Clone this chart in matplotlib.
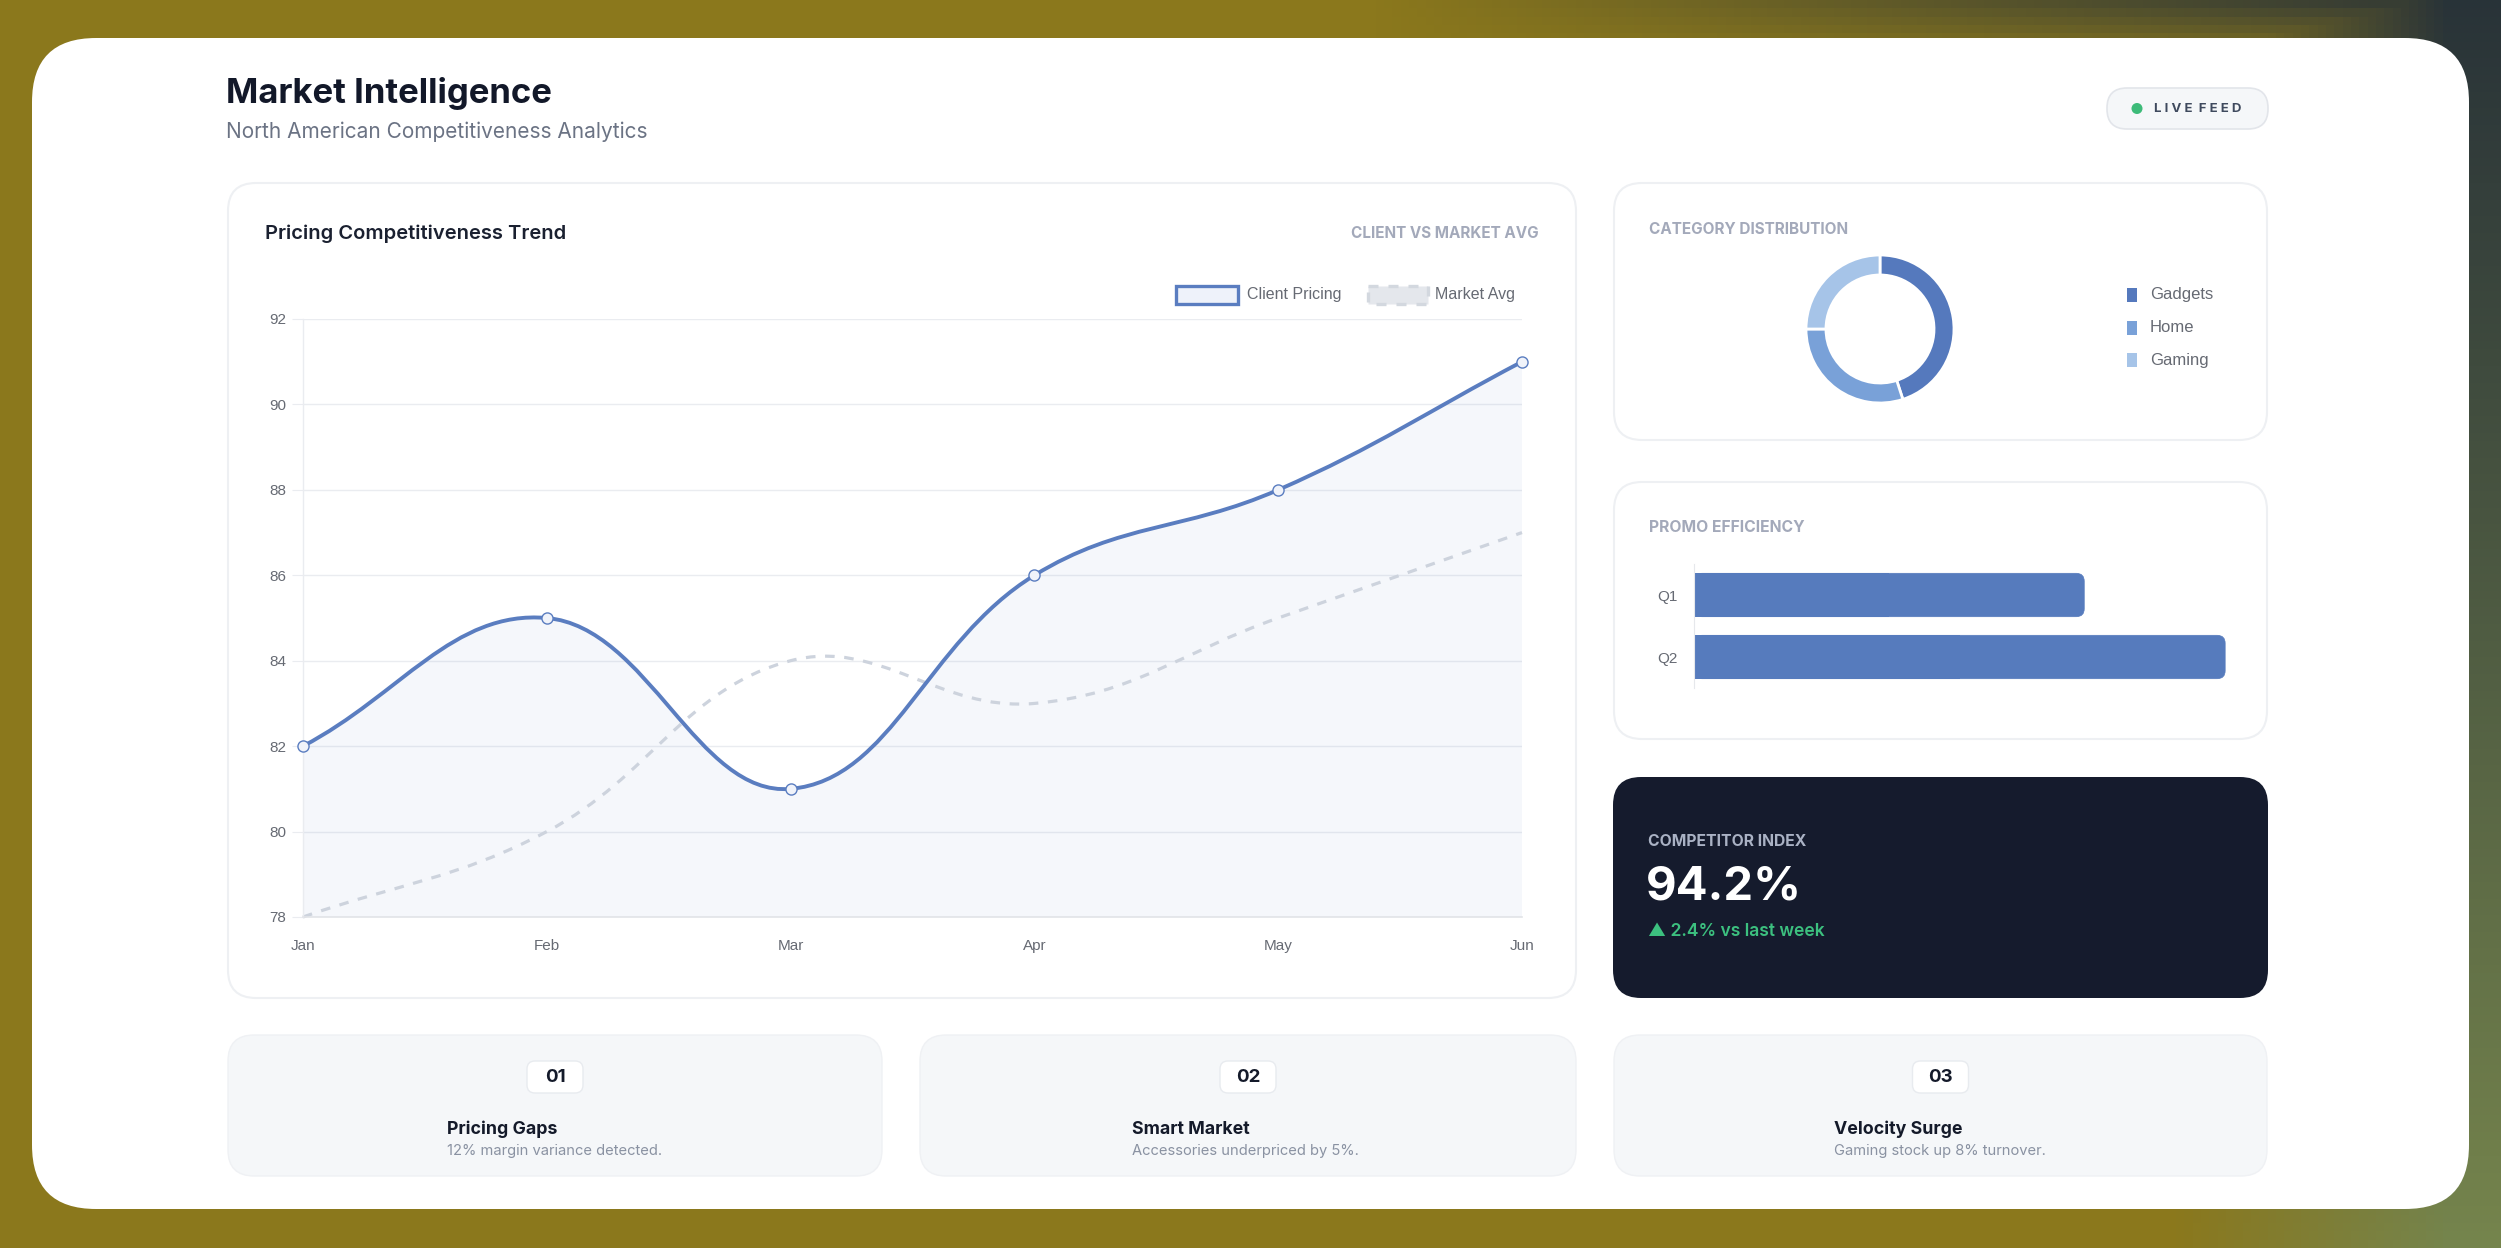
import numpy as np
import matplotlib
matplotlib.use("Agg")
import matplotlib.pyplot as plt
from matplotlib.patches import FancyBboxPatch, Rectangle, PathPatch, Circle
from matplotlib.path import Path

# data
months = ["Jan", "Feb", "Mar", "Apr", "May", "Jun"]
client_pricing = [82, 85, 81, 86, 88, 91]
market_avg = [78, 80, 84, 83, 85, 87]
y_ticks = [78, 80, 82, 84, 86, 88, 90, 92]

categories = ["Gadgets", "Home", "Gaming"]
category_share = [45, 30, 25]

quarters = ["Q1", "Q2"]
promo_eff = [72, 98]

insights = [("01", "Pricing Gaps", "12% margin variance detected."),
            ("02", "Smart Market", "Accessories underpriced by 5%."),
            ("03", "Velocity Surge", "Gaming stock up 8% turnover.")]

W, H = 2501, 1248
BLUE = "#5a7dc0"
DARK = "#151b2d"
UI = ["Inter", "DejaVu Sans"]
CH = ["Liberation Sans", "DejaVu Sans"]

fig = plt.figure(figsize=(W / 100, H / 100), dpi=100)


def box(x0, y0, x1, y1):
    return [x0 / W, 1 - y1 / H, (x1 - x0) / W, (y1 - y0) / H]


# background layer in pixel coordinates
bg = fig.add_axes([0, 0, 1, 1])
bg.set_xlim(0, W)
bg.set_ylim(H, 0)
bg.axis("off")

gx = np.linspace(0, 1, 300)
gy = np.linspace(0, 1, 150)
X, Y = np.meshgrid(gx, gy)
olive = np.array([139, 120, 28]) / 255
right_col = np.stack([0.16 + 0.30 * Y, 0.20 + 0.32 * Y, 0.22 + 0.08 * Y], axis=-1)
r = np.clip((X - 0.87) / 0.11, 0, 1)[..., None]
top = np.clip((X - 0.55) / 0.4, 0, 1) * np.clip(1 - Y / 0.05, 0, 1)
r = np.maximum(r, top[..., None] * 0.85)
img = olive * (1 - r) + right_col * r
bg.imshow(img, extent=[0, W, H, 0], aspect="auto", zorder=0)


def rbox(x0, y0, x1, y1, rad, fc, ec="none", lw=0, z=1):
    p = FancyBboxPatch((x0, y0), x1 - x0, y1 - y0,
                       boxstyle=f"round,pad=0,rounding_size={rad}",
                       fc=fc, ec=ec, lw=lw, zorder=z)
    bg.add_patch(p)
    return p


# main white panel
rbox(32, 38, 2469, 1209, 64, "white", z=1)

# header
bg.text(226, 93, "Market Intelligence", fontsize=25, fontweight="bold",
        color="#121829", family=UI, va="center", zorder=5)
bg.text(226, 132, "North American Competitiveness Analytics", fontsize=15,
        color="#6b7384", family=UI, va="center", zorder=5)

rbox(2107, 88, 2268, 129, 20, "#f5f7f9", ec="#e2e5ea", lw=1.2, z=2)
bg.add_patch(Circle((2137, 108.5), 5.5, fc="#3dbb79", ec="none", zorder=5))
bg.text(2154, 109, "L I V E  F E E D", fontsize=9.5, fontweight="bold",
        color="#3f4a5e", family=UI, va="center", zorder=5)

# cards
rbox(228, 183, 1576, 998, 28, "white", ec="#eef0f3", lw=1.5, z=2)
rbox(1614, 183, 2267, 440, 28, "white", ec="#eef0f3", lw=1.5, z=2)
rbox(1614, 482, 2267, 739, 28, "white", ec="#eef0f3", lw=1.5, z=2)
rbox(1613, 777, 2268, 998, 28, DARK, z=2)

bg.text(265, 234, "Pricing Competitiveness Trend", fontsize=14.5, fontweight="semibold",
        color="#1a2030", family=UI, va="center", zorder=5)
bg.text(1539, 234, "CLIENT VS MARKET AVG", fontsize=11, fontweight="bold",
        color="#a3a9ba", family=UI, va="center", ha="right", zorder=5)
bg.text(1649, 230, "CATEGORY DISTRIBUTION", fontsize=11, fontweight="bold",
        color="#a3a9ba", family=UI, va="center", zorder=5)
bg.text(1649, 528, "PROMO EFFICIENCY", fontsize=11.3, fontweight="bold",
        color="#a3a9ba", family=UI, va="center", zorder=5)

# competitor index card
bg.text(1648, 842, "COMPETITOR INDEX", fontsize=11.3, fontweight="bold",
        color="#aab2c4", family=UI, va="center", zorder=5)
bg.text(1646, 887, "94.2%", fontsize=34, fontweight="bold",
        color="white", family=UI, va="center", zorder=5)
bg.text(1648, 931, "▲ 2.4% vs last week", fontsize=12.6, fontweight="semibold",
        color="#3cc07f", family=UI, va="center", zorder=5)

# legend of the line chart
bg.add_patch(Rectangle((1176, 286), 62, 18, fc="#eef2fa", ec=BLUE, lw=2.4, zorder=5))
bg.text(1247, 295, "Client Pricing", fontsize=11.5, color="#666a73", family=CH,
        va="center", zorder=5)
bg.add_patch(Rectangle((1368, 286), 60, 18, fc="#e4e7ec", ec="#d3d8df", lw=2.4,
                       ls=(0, (3, 3)), zorder=5))
bg.text(1435, 295, "Market Avg", fontsize=11.5, color="#666a73", family=CH,
        va="center", zorder=5)

# bottom insight cards
card_x = [(228, 882), (920, 1576), (1614, 2267)]
text_x = [447, 1132, 1834]
for (x0, x1), tx, (num, head, desc) in zip(card_x, text_x, insights):
    rbox(x0, 1035, x1, 1176, 26, "#f5f7f9", ec="#eff1f4", lw=1, z=2)
    cx = (x0 + x1) / 2
    rbox(cx - 28, 1061, cx + 28, 1093, 8, "white", ec="#e8ebef", lw=1, z=3)
    bg.text(cx, 1077, num, fontsize=13.5, fontweight="bold", color="#141a2a",
            family=UI, ha="center", va="center", zorder=5)
    bg.text(tx, 1129, head, fontsize=12.8, fontweight="bold", color="#141a2a",
            family=UI, va="center", zorder=5)
    bg.text(tx, 1151, desc, fontsize=10.6, color="#8a92a2",
            family=UI, va="center", zorder=5)

# line chart
ax = fig.add_axes(box(303, 319, 1522, 917))
ax.set_facecolor("none")
ax.set_xlim(0, len(months) - 1)
ax.set_ylim(78, 92)
ax.set_yticks(y_ticks)
ax.set_xticks(range(len(months)))
ax.set_xticklabels(months)
ax.grid(axis="y", color="#eaecf0", lw=1.0)
ax.set_axisbelow(True)
for s in ["top", "right"]:
    ax.spines[s].set_visible(False)
ax.spines["left"].set_color("#eaecf0")
ax.spines["bottom"].set_color("#e2e4e8")
ax.spines["left"].set_linewidth(1.0)
ax.spines["bottom"].set_linewidth(1.2)
ax.tick_params(axis="y", length=8, color="#eaecf0", labelsize=11,
               labelcolor="#666a73", pad=4)
ax.tick_params(axis="x", length=0, labelsize=11, labelcolor="#666a73", pad=16)
for lab in ax.get_xticklabels() + ax.get_yticklabels():
    lab.set_family(CH)


def spline(ax, xs, ys, t=0.4):
    pts = ax.transData.transform(np.column_stack([xs, ys]).astype(float))
    n = len(pts)
    cin, cout = [], []
    for i in range(n):
        prev = pts[max(i - 1, 0)]
        cur = pts[i]
        nxt = pts[min(i + 1, n - 1)]
        d01 = np.hypot(*(cur - prev))
        d12 = np.hypot(*(nxt - cur))
        tot = d01 + d12
        s01 = d01 / tot if tot else 0
        s12 = d12 / tot if tot else 0
        cin.append(cur - t * s01 * (nxt - prev))
        cout.append(cur + t * s12 * (nxt - prev))
    y_lo, y_hi = ax.transData.transform([(0, 78), (0, 92)])[:, 1]
    verts = [pts[0]]
    codes = [Path.MOVETO]
    for i in range(n - 1):
        c1 = cout[i].copy()
        c2 = cin[i + 1].copy()
        c1[1] = np.clip(c1[1], y_lo, y_hi)
        c2[1] = np.clip(c2[1], y_lo, y_hi)
        verts += [c1, c2, pts[i + 1]]
        codes += [Path.CURVE4] * 3
    verts = ax.transData.inverted().transform(np.array(verts))
    return verts, codes


xs = np.arange(len(months))
cv, cc = spline(ax, xs, client_pricing)
fill_v = np.vstack([cv, [[xs[-1], 78], [xs[0], 78], [xs[0], 78]]])
fill_c = cc + [Path.LINETO, Path.LINETO, Path.CLOSEPOLY]
ax.add_patch(PathPatch(Path(fill_v, fill_c), fc=BLUE, alpha=0.06, ec="none", zorder=1))

mv, mc = spline(ax, xs, market_avg)
ax.add_patch(PathPatch(Path(mv, mc), fill=False, ec="#cdd3dd", lw=2.3,
                       ls=(0, (3, 3)), zorder=2, clip_on=False))
ax.add_patch(PathPatch(Path(cv, cc), fill=False, ec=BLUE, lw=2.8, zorder=3,
                       clip_on=False, capstyle="round", joinstyle="round"))
ax.plot(xs, client_pricing, ls="none", marker="o", ms=8, mfc="#f0f3fa",
        mec=BLUE, mew=1.0, zorder=4, clip_on=False)

# donut
donut_cols = ["#5579bd", "#79a1d8", "#a6c4e8"]
dx = fig.add_axes(box(1880 - 74, 329 - 74, 1880 + 74, 329 + 74))
dx.pie(category_share, colors=donut_cols, startangle=90,
       counterclock=False, radius=1.0,
       wedgeprops=dict(width=0.27, edgecolor="white", linewidth=2))
dx.set_xlim(-1, 1)
dx.set_ylim(-1, 1)
dx.set_aspect("equal")
dx.axis("off")

for i, (name, col) in enumerate(zip(categories, donut_cols)):
    y = 295 + i * 32.5
    bg.add_patch(Rectangle((2127, y - 7), 10, 14, fc=col, ec="none", zorder=5))
    bg.text(2150, y, name, fontsize=12, color="#666a73", family=CH, va="center", zorder=5)

# promo bars
bx = fig.add_axes(box(1694, 564, 1694 + 542, 688))
bx.set_facecolor("none")
bars = bx.barh(range(len(quarters)), promo_eff, height=0.7, color="#567bbd",
               zorder=2, antialiased=False)
bx.set_xlim(0, 100)
bx.set_ylim(len(quarters) - 0.5, -0.5)
# round the right end of each bar
px_x = 542 / 100
px_y = 124 / 2
for b in bars:
    rnd = FancyBboxPatch((b.get_x(), b.get_y()), b.get_width(), b.get_height(),
                         boxstyle=f"round,pad=0,rounding_size={8 / px_x}",
                         mutation_aspect=px_x / px_y, fc="#567bbd", ec="#567bbd",
                         lw=0.5, zorder=1.9)
    bx.add_patch(rnd)
    b.set_width(b.get_width() / 2)
bx.set_yticks(range(len(quarters)))
bx.set_yticklabels(quarters)
bx.set_xticks([])
for s in ["top", "right", "bottom"]:
    bx.spines[s].set_visible(False)
bx.spines["left"].set_color("#e6e8ec")
bx.tick_params(axis="y", length=0, labelsize=11, labelcolor="#666a73", pad=12)
for lab in bx.get_yticklabels():
    lab.set_family(CH)

fig.savefig("out.png", dpi=100)
